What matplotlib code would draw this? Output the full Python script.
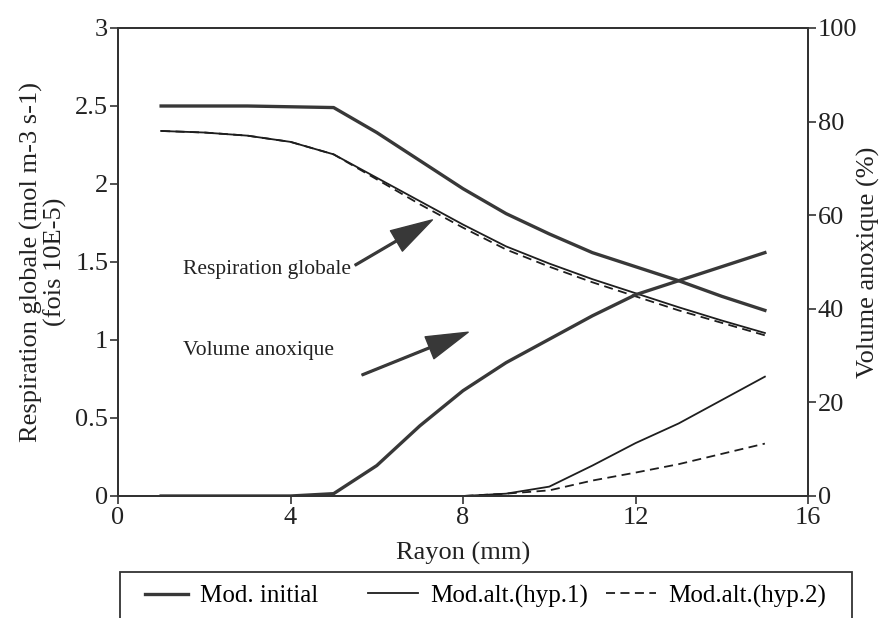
import numpy as np
import matplotlib.pyplot as plt
from matplotlib.patches import Rectangle

plt.rcParams['font.family'] = ['Liberation Serif', 'DejaVu Serif']

# ------------------------
# Donnees
# ------------------------
rayon = [1, 2, 3, 4, 5, 6, 7, 8, 9, 10, 11, 12, 13, 14, 15]

resp_initial = [2.50, 2.50, 2.50, 2.495, 2.49, 2.33, 2.15, 1.97, 1.81, 1.68, 1.56, 1.47, 1.38, 1.28, 1.19]
resp_hyp1 = [2.34, 2.33, 2.31, 2.27, 2.19, 2.04, 1.89, 1.74, 1.60, 1.49, 1.39, 1.30, 1.21, 1.125, 1.045]
resp_hyp2 = [2.34, 2.33, 2.31, 2.27, 2.19, 2.03, 1.87, 1.72, 1.58, 1.47, 1.37, 1.28, 1.19, 1.11, 1.03]

vol_initial = [0, 0, 0, 0, 0.5, 6.5, 15, 22.5, 28.5, 33.5, 38.5, 43, 46, 49, 52]
vol_hyp1 = [0, 0, 0, 0, 0, 0, 0, 0, 0.5, 2, 6.5, 11.3, 15.5, 20.5, 25.5]
vol_hyp2 = [0, 0, 0, 0, 0, 0, 0, 0, 0.5, 1.2, 3.3, 5, 6.8, 9, 11.2]

noms = ["Mod. initial", "Mod.alt.(hyp.1)", "Mod.alt.(hyp.2)"]

# ------------------------
# Figure
# ------------------------
W, H = 891, 618
fig = plt.figure(figsize=(W / 100, H / 100), dpi=100)
ax = fig.add_axes([118 / W, 1 - 496 / H, 690 / W, 468 / H])
ax2 = ax.twinx()

gris = '#383838'
noir = '#1e1e1e'
tirets = (0, (5, 3))
l1, = ax.plot(rayon, resp_initial, color=gris, lw=2.4)
l2, = ax.plot(rayon, resp_hyp1, color=noir, lw=1.3)
l3, = ax.plot(rayon, resp_hyp2, color=noir, lw=1.3, ls=tirets)

ax2.plot(rayon, vol_initial, color=gris, lw=2.4)
ax2.plot(rayon, vol_hyp1, color=noir, lw=1.3)
ax2.plot(rayon, vol_hyp2, color=noir, lw=1.3, ls=tirets)

ax.set_xlim(0, 16)
ax.set_ylim(0, 3)
ax2.set_ylim(0, 100)
ax.set_xticks([0, 4, 8, 12, 16])
ax.set_yticks([0, 0.5, 1, 1.5, 2, 2.5, 3])
ax.set_yticklabels(['0', '0.5', '1', '1.5', '2', '2.5', '3'])
ax2.set_yticks([0, 20, 40, 60, 80, 100])

for a in (ax, ax2):
    a.tick_params(labelsize=19, length=6, width=1.2, color='#333333', pad=1, labelcolor='#222222')
    for s in a.spines.values():
        s.set_color('#333333')
        s.set_linewidth(1.4)
ax.tick_params(axis='x', pad=2)

ax.set_xlabel("Rayon (mm)", fontsize=19, labelpad=9, color='#222222')
ax.set_ylabel("Respiration globale (mol m-3 s-1)\n(fois 10E-5)", fontsize=19,
              linespacing=1.05, labelpad=6, color='#222222')
ax2.set_ylabel("Volume anoxique (%)", fontsize=19, labelpad=0, color='#222222')

# ------------------------
# Annotations
# ------------------------
fleche = dict(facecolor=gris, edgecolor=gris, width=1.3, headwidth=17, headlength=30, shrink=0)
ax.annotate("Respiration globale", xy=(7.29, 1.77), xytext=(1.5, 1.45),
            fontsize=15.5, color='#222222', va='center', ha='left')
ax.annotate("", xy=(7.29, 1.77), xytext=(5.5, 1.48), arrowprops=fleche)
ax.annotate("Volume anoxique", xy=(8.12, 1.05), xytext=(1.5, 0.93),
            fontsize=15.5, color='#222222', va='center', ha='left')
ax.annotate("", xy=(8.12, 1.05), xytext=(5.66, 0.776), arrowprops=fleche)

# ------------------------
# Legende : cadre ouvert en bas + une entree par position
# ------------------------
fig.patches.append(Rectangle((120 / W, -0.05), 732 / W, 0.05 + 1 - 572 / H,
                             transform=fig.transFigure, fill=False,
                             edgecolor='#333333', linewidth=1.3))
x_entrees = [145, 368, 606]
longueurs = [1.7, 2.0, 2.0]
for h, nom, xe, lg in zip([l1, l2, l3], noms, x_entrees, longueurs):
    fig.legend([h], [nom], loc='center left', bbox_to_anchor=(xe / W, 1 - 596 / H),
               fontsize=18, frameon=False, handlelength=lg, handletextpad=0.5,
               borderaxespad=0, borderpad=0)

fig.savefig("out.png", dpi=100)
